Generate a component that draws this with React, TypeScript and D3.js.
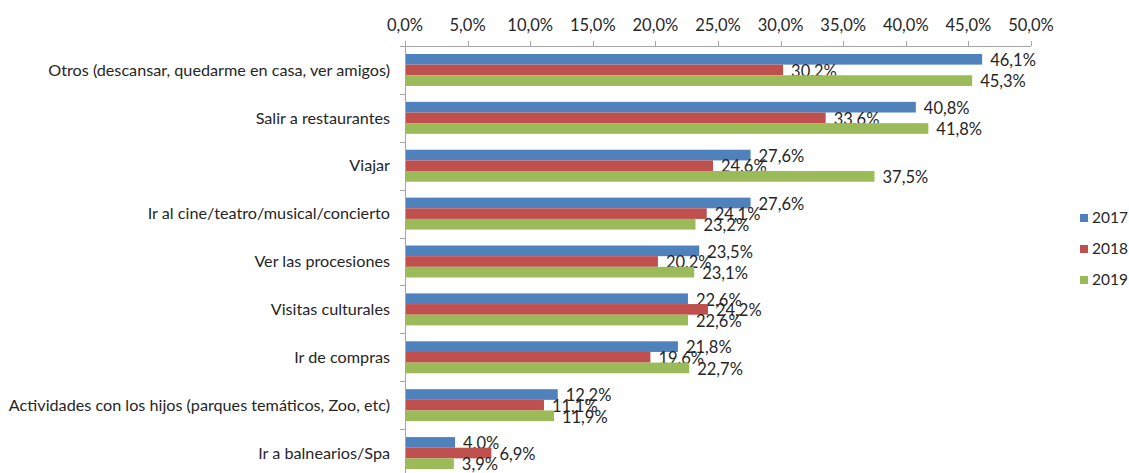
import React from "react";
import * as d3 from "d3";

const categories = [
  "Otros (descansar, quedarme en casa, ver amigos)",
  "Salir a restaurantes",
  "Viajar",
  "Ir al cine/teatro/musical/concierto",
  "Ver las procesiones",
  "Visitas culturales",
  "Ir de compras",
  "Actividades con los hijos (parques temáticos, Zoo, etc)",
  "Ir a balnearios/Spa",
];
const seriesNames = ["2017", "2018", "2019"];
const values2017 = [46.1, 40.8, 27.6, 27.6, 23.5, 22.6, 21.8, 12.2, 4.0];
const values2018 = [30.2, 33.6, 24.6, 24.1, 20.2, 24.2, 19.6, 11.1, 6.9];
const values2019 = [45.3, 41.8, 37.5, 23.2, 23.1, 22.6, 22.7, 11.9, 3.9];
const xTicks = [0, 5, 10, 15, 20, 25, 30, 35, 40, 45, 50];
const colors = ["#4F81BD", "#C0504D", "#9BBB59"];

const W = 1129;
const H = 473;
const FONT = "Lato, 'Open Sans', sans-serif";
const TEXT = "#262626";
const AXIS = "#a6a6a6";
const FS = 16.5;
const FS_CAT = 16.2;
const FS_LEG = 15.5;

const fmt = (v: number) => v.toFixed(1).replace(".", ",") + "%";

export default function App() {
  const seriesValues = [values2017, values2018, values2019];
  const x = d3.scaleLinear().domain([0, 50]).range([405, 1031]);
  const y = d3
    .scaleBand<string>()
    .domain(categories)
    .range([46, 477])
    .paddingInner(0.333)
    .paddingOuter(0.1665);
  const sub = d3
    .scaleBand<string>()
    .domain(seriesNames)
    .range([0, y.bandwidth()]);
  const step = y.step();
  const y0 = 46;

  return (
    <svg
      width={W}
      height={H}
      style={{ position: "absolute", left: 0, top: 0, fontFamily: FONT }}
    >
      <rect x={0} y={0} width={W} height={H} fill="#fff" />
      {/* top axis */}
      <line x1={x(0)} x2={x(50)} y1={y0 + 0.5} y2={y0 + 0.5} stroke={AXIS} />
      {xTicks.map((t) => (
        <g key={t}>
          <line
            x1={Math.round(x(t)) + 0.5}
            x2={Math.round(x(t)) + 0.5}
            y1={y0 - 5}
            y2={y0}
            stroke={AXIS}
          />
          <text
            x={x(t)}
            y={31}
            textAnchor="middle"
            fontSize={FS}
            fill={TEXT}
          >
            {fmt(t)}
          </text>
        </g>
      ))}
      {/* left axis */}
      <line x1={x(0) + 0.5} x2={x(0) + 0.5} y1={y0} y2={477} stroke={AXIS} />
      {d3.range(categories.length + 1).map((i) => (
        <line
          key={i}
          x1={x(0) - 5}
          x2={x(0)}
          y1={Math.round(y0 + i * step) + 0.5}
          y2={Math.round(y0 + i * step) + 0.5}
          stroke={AXIS}
        />
      ))}
      {categories.map((c, ci) => (
        <g key={c}>
          <text
            x={x(0) - 15}
            y={(y(c) as number) + y.bandwidth() / 2}
            dy="0.35em"
            textAnchor="end"
            fontSize={FS_CAT}
            fill={TEXT}
          >
            {c}
          </text>
          {seriesNames.map((s, si) => {
            const v = seriesValues[si][ci];
            const by = (y(c) as number) + (sub(s) as number);
            return (
              <g key={s}>
                <rect
                  x={x(0) + 1}
                  y={by}
                  width={x(v) - x(0) - 1}
                  height={sub.bandwidth()}
                  fill={colors[si]}
                />
                <text
                  x={x(v) + 8}
                  y={by + sub.bandwidth() / 2 + 1}
                  dy="0.35em"
                  fontSize={FS}
                  fill={TEXT}
                >
                  {fmt(v)}
                </text>
              </g>
            );
          })}
        </g>
      ))}
      {/* legend */}
      {seriesNames.map((s, i) => (
        <g key={s} transform={`translate(1080, ${218 + i * 31})`}>
          <rect x={0} y={-4} width={8} height={8} fill={colors[i]} />
          <text x={12} y={0} dy="0.35em" fontSize={FS_LEG} fill={TEXT}>
            {s}
          </text>
        </g>
      ))}
    </svg>
  );
}
